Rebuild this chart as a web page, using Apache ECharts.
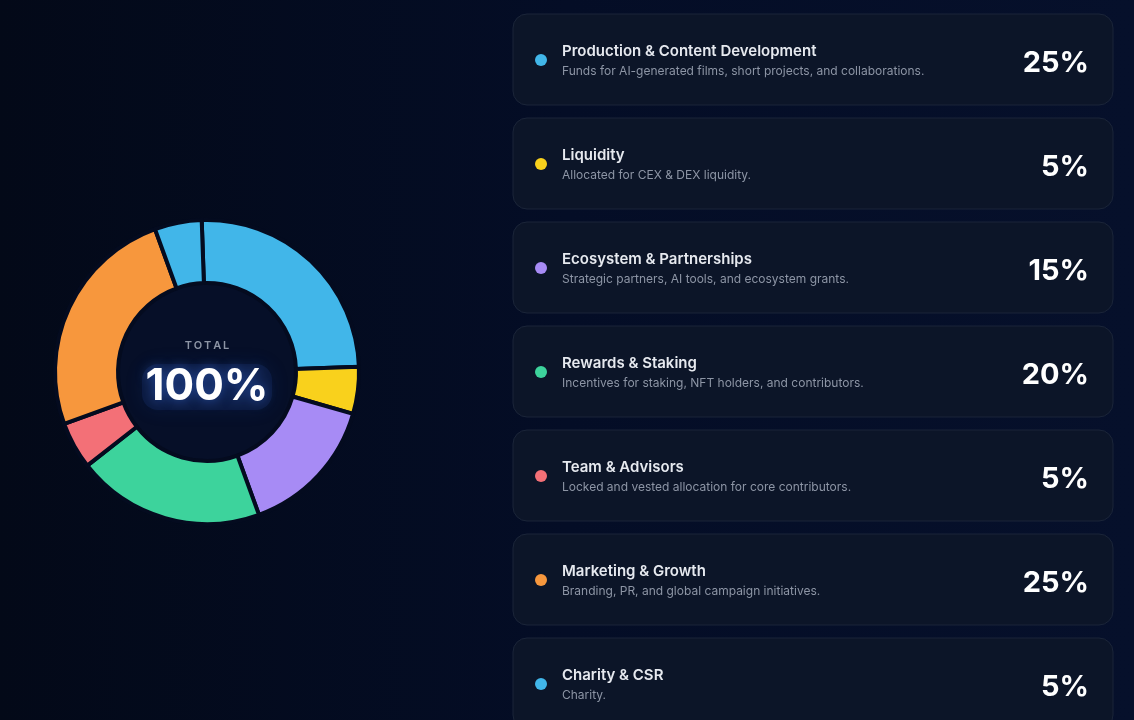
<!DOCTYPE html>
<html>
<head>
<meta charset="utf-8">
<script src="https://cdn.jsdelivr.net/npm/echarts@6/dist/echarts.min.js"></script>
<style>
  html, body { margin: 0; padding: 0; background: #030a1c; }
  #chart { width: 1134px; height: 720px; }
</style>
</head>
<body>
<div id="chart"></div>
<script>
// allocation data
var names = ['Production & Content Development', 'Liquidity', 'Ecosystem & Partnerships',
  'Rewards & Staking', 'Team & Advisors', 'Marketing & Growth', 'Charity & CSR'];
var descriptions = [
  'Funds for AI-generated films, short projects, and collaborations.',
  'Allocated for CEX & DEX liquidity.',
  'Strategic partners, AI tools, and ecosystem grants.',
  'Incentives for staking, NFT holders, and contributors.',
  'Locked and vested allocation for core contributors.',
  'Branding, PR, and global campaign initiatives.',
  'Charity.'
];
var values = [25, 5, 15, 20, 5, 25, 5];
var colors = ['#41b6e9', '#f9d11c', '#a78bf5', '#3dd39c', '#f37077', '#f7973d', '#41b6e9'];

var myChart = echarts.init(document.getElementById('chart'));

var total = values.reduce(function (a, b) { return a + b; }, 0);
var fontFam = 'Inter, "Noto Sans", sans-serif';

// cards on the right
var cards = [];
names.forEach(function (name, i) {
  var top = 14 + i * 104;
  cards.push({
    type: 'group',
    x: 513,
    y: top,
    children: [
      {type: 'rect', shape: {x: 0, y: 0, width: 600, height: 91, r: 14},
        style: {fill: '#0c1528', stroke: '#1b2539', lineWidth: 1}},
      {type: 'circle', shape: {cx: 28, cy: 46, r: 6}, style: {fill: colors[i]}},
      {type: 'text', x: 49, y: 37, style: {
        text: name, fill: '#e6e9ef', font: '600 15px ' + fontFam,
        align: 'left', verticalAlign: 'middle'}},
      {type: 'text', x: 49, y: 57, style: {
        text: descriptions[i], fill: '#8d95a5', font: '12px ' + fontFam,
        align: 'left', verticalAlign: 'middle'}},
      {type: 'text', x: 576, y: 49, style: {
        text: Math.round(values[i] / total * 100) + '%', fill: '#ffffff',
        font: '700 29px ' + fontFam, align: 'right', verticalAlign: 'middle'}}
    ]
  });
});

var option = {
  backgroundColor: {
    type: 'linear', x: 0, y: 0, x2: 1, y2: 0,
    colorStops: [{offset: 0, color: '#030918'}, {offset: 0.5, color: '#040d26'}, {offset: 1, color: '#06102b'}]
  },
  color: colors,
  graphic: [
    {type: 'circle', shape: {cx: 207, cy: 372, r: 90}, style: {fill: '#060f28'}, z: -1},
    {type: 'rect', shape: {x: 142, y: 364, width: 130, height: 46, r: 16},
      style: {fill: 'rgba(22,45,100,0.35)', shadowColor: 'rgba(30,70,160,0.45)', shadowBlur: 18}},
    {type: 'text', x: 207, y: 346, style: {
      text: 'T\u2009O\u2009T\u2009A\u2009L', fill: '#8d95a5', font: '600 11px ' + fontFam,
      align: 'center', verticalAlign: 'middle'}},
    {type: 'text', x: 207, y: 387, style: {
      text: total + '%', fill: '#ffffff', font: '700 44px ' + fontFam,
      align: 'center', verticalAlign: 'middle',
      textShadowColor: 'rgba(70,130,255,0.5)', textShadowBlur: 12}}
  ].concat(cards),
  series: [
    {
      type: 'pie',
      center: [207, 372],
      radius: [89, 152],
      startAngle: 92,
      clockwise: true,
      silent: true,
      itemStyle: {borderColor: '#040b1f', borderWidth: 4},
      label: {show: false},
      labelLine: {show: false},
      data: names.map(function (n, i) { return {name: n, value: values[i]}; })
    }
  ]
};

option && myChart.setOption(option);
</script>
</body>
</html>
